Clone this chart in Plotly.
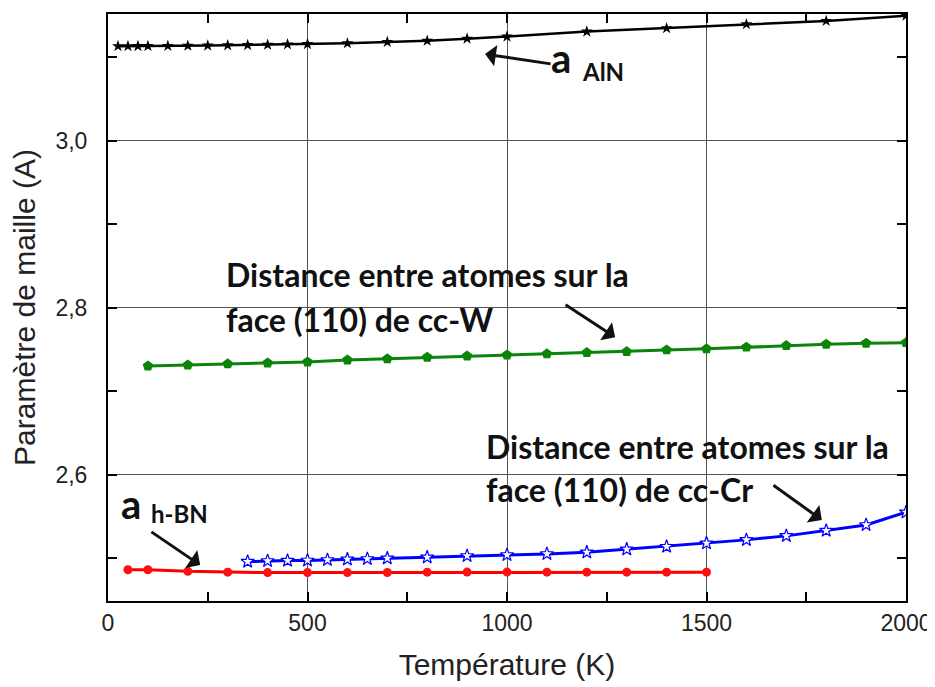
import plotly.graph_objects as go

# ---- data ----
T_AlN = [25, 50, 75, 100, 150, 200, 250, 300, 350, 400, 450, 500, 600, 700, 800, 900, 1000,
         1200, 1400, 1600, 1800, 2000]
a_AlN = [3.1135, 3.1135, 3.1136, 3.1137, 3.1138, 3.1140, 3.1142, 3.1145, 3.1148, 3.1152, 3.1156,
         3.1160, 3.1170, 3.1185, 3.1200, 3.1225, 3.1250, 3.1310, 3.1350, 3.1398, 3.1437, 3.1500]

T_W = [100, 200, 300, 400, 500, 600, 700, 800, 900, 1000, 1100, 1200, 1300, 1400, 1500,
       1600, 1700, 1800, 1900, 2000]
d_W = [2.7305, 2.7317, 2.7330, 2.7341, 2.7353, 2.7377, 2.7390, 2.7410, 2.7425, 2.7437,
       2.7450, 2.7465, 2.7477, 2.7497, 2.7510, 2.7530, 2.7549, 2.7565, 2.7577, 2.7584]

T_Cr = [350, 400, 450, 500, 550, 600, 650, 700, 800, 900, 1000, 1100, 1200, 1300, 1400,
        1500, 1600, 1700, 1800, 1900, 2000]
d_Cr = [2.4962, 2.4970, 2.4974, 2.4976, 2.4982, 2.4990, 2.4994, 2.5002, 2.5014, 2.5030,
        2.5042, 2.5054, 2.5074, 2.5110, 2.5141, 2.5182, 2.5222, 2.5270, 2.5333, 2.5401, 2.5553]

T_BN = [50, 100, 200, 300, 400, 500, 600, 700, 800, 900, 1000, 1100, 1200, 1300, 1400, 1500]
a_BN = [2.4864, 2.4864, 2.4845, 2.4835, 2.4830, 2.4830, 2.4830, 2.4831, 2.4835, 2.4836,
        2.4836, 2.4835, 2.4835, 2.4835, 2.4835, 2.4835]

x_ticks = [0, 500, 1000, 1500, 2000]
x_ticktext = ["0", "500", "1000", "1500", "2000"]
y_ticks = [2.6, 2.8, 3.0]
y_ticktext = ["2,6", "2,8", "3,0"]
x_minor = [250, 750, 1250, 1750]
y_minor = [2.5, 2.7, 2.9, 3.1]

fig = go.Figure()

fig.add_trace(go.Scatter(x=T_AlN, y=a_AlN, mode="lines+markers",
                         line=dict(color="black", width=2.5),
                         marker=dict(symbol="star", size=9, color="black")))
fig.add_trace(go.Scatter(x=T_W, y=d_W, mode="lines+markers",
                         line=dict(color="#0a850a", width=3),
                         marker=dict(symbol="pentagon", size=11, color="#0a850a")))
fig.add_trace(go.Scatter(x=T_Cr, y=d_Cr, mode="lines+markers",
                         line=dict(color="#0000ff", width=3),
                         marker=dict(symbol="star", size=10, color="white",
                                     line=dict(color="#0000ff", width=1.2))))
fig.add_trace(go.Scatter(x=T_BN, y=a_BN, mode="lines+markers",
                         line=dict(color="#ff0000", width=3),
                         marker=dict(symbol="circle", size=9, color="#ff1010")))

tfont = dict(family="Lato", size=32, color="#111111")
bigfont = dict(family="Lato", size=40, color="#111111")
subfont = dict(family="Lato", size=24, color="#111111")

anns = []
# text labels
anns.append(dict(x=1105, y=3.099, xref="x", yref="y", text="<b>a</b>", showarrow=False,
                 font=bigfont, xanchor="left", yanchor="middle"))
anns.append(dict(x=1183, y=3.083, xref="x", yref="y", text="<b>AlN</b>", showarrow=False,
                 font=subfont, xanchor="left", yanchor="middle"))
anns.append(dict(x=290, y=2.8395, xref="x", yref="y",
                 text="<b>Distance entre atomes sur la</b>", showarrow=False,
                 font=tfont, xanchor="left", yanchor="middle"))
anns.append(dict(x=290, y=2.786, xref="x", yref="y",
                 text="<b>face (110) de cc-W</b>", showarrow=False,
                 font=tfont, xanchor="left", yanchor="middle"))
anns.append(dict(x=942, y=2.6335, xref="x", yref="y",
                 text="<b>Distance entre atomes sur la</b>", showarrow=False,
                 font=tfont, xanchor="left", yanchor="middle"))
anns.append(dict(x=942, y=2.583, xref="x", yref="y",
                 text="<b>face (110) de cc-Cr</b>", showarrow=False,
                 font=tfont, xanchor="left", yanchor="middle"))
anns.append(dict(x=28, y=2.565, xref="x", yref="y", text="<b>a</b>", showarrow=False,
                 font=bigfont, xanchor="left", yanchor="middle"))
anns.append(dict(x=102, y=2.554, xref="x", yref="y", text="<b>h-BN</b>", showarrow=False,
                 font=subfont, xanchor="left", yanchor="middle"))

# arrows (tail -> head)
arrows = [
    ((1113, 3.092), (945, 3.104)),
    ((1143, 2.805), (1271, 2.765)),
    ((1664, 2.589), (1789, 2.546)),
    ((105, 2.533), (231, 2.492)),
]
for (tx, ty), (hx, hy) in arrows:
    anns.append(dict(x=hx, y=hy, ax=tx, ay=ty, xref="x", yref="y", axref="x", ayref="y",
                     text="", showarrow=True, arrowhead=1, arrowsize=1.2, arrowwidth=3,
                     arrowcolor="#111111"))

fig.update_layout(
    width=935, height=687,
    margin=dict(l=100, r=37, t=6, b=94),
    paper_bgcolor="white", plot_bgcolor="white",
    showlegend=False,
    annotations=anns,
    font=dict(family="Liberation Sans", color="#222222"),
)

fig.update_xaxes(
    range=[0, 2000], tickmode="array", tickvals=x_ticks, ticktext=x_ticktext,
    ticks="inside", ticklen=9, tickwidth=1.5, tickcolor="black",
    showline=True, linecolor="black", linewidth=2, mirror="ticks",
    showgrid=True, gridcolor="#555555", gridwidth=1, zeroline=False,
    tickfont=dict(size=23, color="#222222"), automargin=False,
    minor=dict(tickmode="array", tickvals=x_minor, ticks="inside", ticklen=9,
               tickwidth=1.5, tickcolor="black", showgrid=False),
    title=dict(text="Température (K)", font=dict(size=30, color="#222222"), standoff=19),
)
fig.update_yaxes(
    range=[2.449, 3.152], tickmode="array", tickvals=y_ticks, ticktext=y_ticktext,
    ticks="inside", ticklen=9, tickwidth=1.5, tickcolor="black",
    showline=True, linecolor="black", linewidth=2, mirror="ticks",
    showgrid=True, gridcolor="#555555", gridwidth=1, zeroline=False,
    tickfont=dict(size=23, color="#222222"), automargin=False, ticklabelstandoff=14,
    minor=dict(tickmode="array", tickvals=y_minor, ticks="inside", ticklen=9,
               tickwidth=1.5, tickcolor="black", showgrid=False),
    title=dict(text="Paramètre de maille (A)", font=dict(size=30, color="#222222"), standoff=12),
)

fig.write_html("out.html")
